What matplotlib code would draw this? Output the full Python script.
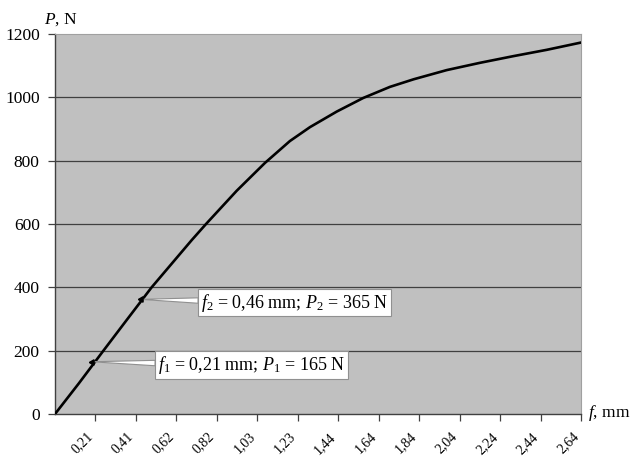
import matplotlib
matplotlib.use("Agg")
import matplotlib.pyplot as plt
from matplotlib.transforms import ScaledTranslation

plt.rcParams['font.family'] = ['Liberation Serif', 'DejaVu Serif']
plt.rcParams['mathtext.fontset'] = 'custom'
plt.rcParams['mathtext.rm'] = 'Liberation Serif'
plt.rcParams['mathtext.it'] = 'Liberation Serif:italic'

# Data
f_mm = [0.0, 0.12, 0.243, 0.36, 0.485, 0.686, 0.758, 0.912, 1.054, 1.179,
        1.28, 1.414, 1.547, 1.681, 1.80, 1.966, 2.133, 2.30, 2.468, 2.64]
P_N = [0, 97, 200, 297, 400, 549, 600, 705, 793, 862,
       906, 955, 998, 1033, 1057, 1086, 1109, 1130, 1150, 1173]
x_tick_labels = ["0,21", "0,41", "0,62", "0,82", "1,03", "1,23", "1,44",
                 "1,64", "1,84", "2,04", "2,24", "2,44", "2,64"]
y_ticks = [0, 200, 400, 600, 800, 1000, 1200]
callout_f = [0.184, 0.43]
callout_P = [165, 362]
callout_text = ["$f_1$ = 0,21 mm; $P_1$ = 165 N",
                "$f_2$ = 0,46 mm; $P_2$ = 365 N"]

fig = plt.figure(figsize=(6.31, 4.58), dpi=100)
ax = fig.add_axes([55/631, 44/458, 526/631, 380/458])
ax.set_facecolor('#C0C0C0')

x_max = 2.64
ax.set_xlim(0, x_max)
ax.set_ylim(0, 1200)

n = len(x_tick_labels)
ax.set_xticks([x_max * (i + 1) / n for i in range(n)])
ax.set_xticklabels(x_tick_labels, rotation=45, ha='right', va='top',
                   rotation_mode='default', fontsize=10)
shift = ScaledTranslation(3/100, 0, fig.dpi_scale_trans)
for lab in ax.get_xticklabels():
    lab.set_transform(lab.get_transform() + shift)
ax.set_yticks(y_ticks)
ax.set_yticklabels([str(v) for v in y_ticks], fontsize=12.5)

for v in y_ticks[1:-1]:
    ax.axhline(v, color='#404040', lw=0.9, zorder=1)

for s in ['left', 'bottom']:
    ax.spines[s].set_color('#404040')
    ax.spines[s].set_linewidth(1.0)
for s in ['top', 'right']:
    ax.spines[s].set_color('#A0A0A0')
    ax.spines[s].set_linewidth(0.8)

ax.tick_params(axis='both', direction='out', length=5, width=0.9, color='#404040')
ax.tick_params(axis='x', pad=6.5)
ax.tick_params(axis='y', pad=6)

ax.plot(f_mm, P_N, color='black', lw=1.9, zorder=3, solid_joinstyle='round')

# callouts (box left edge / centre in pixels)
box_pos = [(155, 365), (198, 302.5)]
pad_px = 3
for fx, py, txt, (bx, by) in zip(callout_f, callout_P, callout_text, box_pos):
    tx = (bx + pad_px - 55) / 526 * x_max
    ty = (414 - by) / 380 * 1200
    ax.annotate(txt, xy=(fx, py), xytext=(tx, ty), textcoords='data',
                ha='left', va='center', fontsize=13, zorder=5,
                bbox=dict(boxstyle='square,pad=0.14', fc='white', ec='#909090', lw=0.8),
                arrowprops=dict(arrowstyle='wedge,tail_width=0.3,shrink_factor=0.5',
                                fc='white', ec='#909090', lw=0.8,
                                shrinkA=0, shrinkB=0))
    ax.plot([fx], [py], marker=(3, 0, 90), color='black', ms=4.5, zorder=6)

fig.text(44/631, 1 - 20/458, "$P$, N", fontsize=12.5, ha='left', va='center')
fig.text(588/631, 1 - 413/458, "$f$, mm", fontsize=12.5, ha='left', va='center')

fig.savefig('out.png', dpi=100)
